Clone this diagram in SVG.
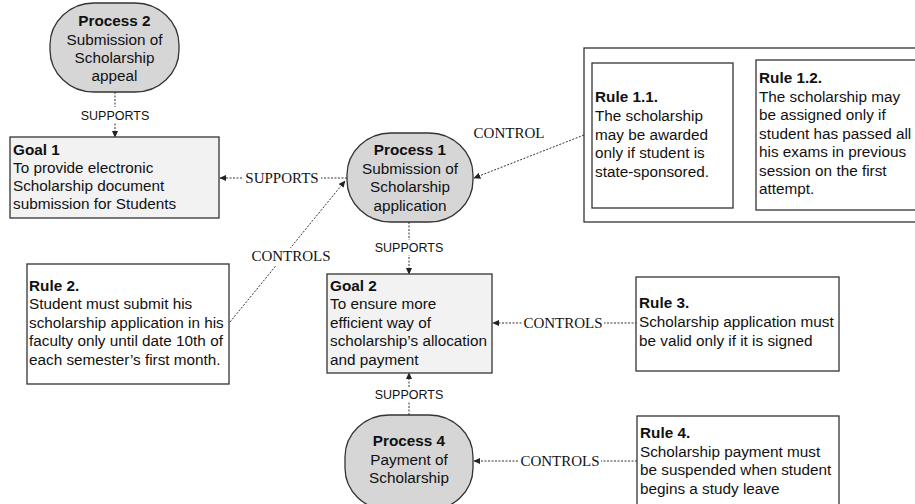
<svg xmlns="http://www.w3.org/2000/svg" width="915" height="504" viewBox="0 0 915 504">
<defs>
<marker id="ah" viewBox="0 0 10 10" refX="9" refY="5" markerWidth="7" markerHeight="7" markerUnits="userSpaceOnUse" orient="auto">
<path d="M0,0.5 L10,5 L0,9.5 z" fill="#222"/>
</marker>
<style>
.proc{fill:#d6d6d6;stroke:#333;stroke-width:1.3}
.goal{fill:#f2f2f2;stroke:#333;stroke-width:1.3}
.rule{fill:#fff;stroke:#333;stroke-width:1.3}
.t{font-family:"Liberation Sans",Arial,sans-serif;font-size:15.3px;fill:#111}
.b{font-weight:bold}
.c{text-anchor:middle}
.lbl{font-family:"Liberation Serif","Times New Roman",serif;font-size:15px;fill:#111;text-anchor:middle}
.slbl{font-family:"Liberation Sans",Arial,sans-serif;font-size:12.5px;fill:#111;text-anchor:middle}
.con{fill:none;stroke:#333;stroke-width:1;stroke-dasharray:2,1.5}
.bg{fill:#fff}
</style>
</defs>

<g id="connectors">
<line class="con" x1="115" y1="92" x2="115" y2="137" marker-end="url(#ah)"/>
<rect class="bg" x="78" y="107" width="74" height="15"/>
<text class="slbl" x="115" y="119.5">SUPPORTS</text>

<line class="con" x1="347" y1="178" x2="220" y2="178" marker-end="url(#ah)"/>
<rect class="bg" x="243" y="170" width="78" height="16"/>
<text class="lbl" x="282" y="183">SUPPORTS</text>

<line class="con" x1="230" y1="322" x2="345" y2="181" marker-end="url(#ah)"/>
<rect class="bg" x="250" y="248" width="82" height="17"/>
<text class="lbl" x="291" y="261">CONTROLS</text>

<line class="con" x1="584" y1="135" x2="474" y2="178" marker-end="url(#ah)"/>
<text class="lbl" x="509" y="138">CONTROL</text>

<line class="con" x1="409" y1="222" x2="409" y2="274" marker-end="url(#ah)"/>
<rect class="bg" x="372" y="240" width="74" height="15"/>
<text class="slbl" x="409" y="252">SUPPORTS</text>

<line class="con" x1="409" y1="415" x2="409" y2="373" marker-end="url(#ah)"/>
<rect class="bg" x="372" y="387" width="74" height="15"/>
<text class="slbl" x="409" y="399">SUPPORTS</text>

<line class="con" x1="637" y1="323" x2="493" y2="323" marker-end="url(#ah)"/>
<rect class="bg" x="522" y="315" width="82" height="16"/>
<text class="lbl" x="563" y="328">CONTROLS</text>

<line class="con" x1="637" y1="461" x2="474" y2="461" marker-end="url(#ah)"/>
<rect class="bg" x="519" y="453" width="82" height="16"/>
<text class="lbl" x="560" y="466">CONTROLS</text>
</g>

<g id="process2">
<rect class="proc" x="50" y="3" width="129" height="89" rx="44" ry="42"/>
<text class="t b c" x="114.5" y="26">Process 2</text>
<text class="t c" x="114.5" y="45">Submission of</text>
<text class="t c" x="114.5" y="63">Scholarship</text>
<text class="t c" x="114.5" y="81">appeal</text>
</g>

<g id="goal1">
<rect class="goal" x="10" y="137" width="209" height="81"/>
<text class="t b" x="13" y="155">Goal 1</text>
<text class="t" x="13" y="173">To provide electronic</text>
<text class="t" x="13" y="191">Scholarship document</text>
<text class="t" x="13" y="209">submission for Students</text>
</g>

<g id="process1">
<rect class="proc" x="347" y="133" width="126" height="89" rx="44" ry="42"/>
<text class="t b c" x="410" y="155">Process 1</text>
<text class="t c" x="410" y="174">Submission of</text>
<text class="t c" x="410" y="192">Scholarship</text>
<text class="t c" x="410" y="211">application</text>
</g>

<g id="rule1">
<rect class="rule" x="584" y="48" width="340" height="174"/>
</g>

<g id="rule1-1">
<rect class="rule" x="592" y="63" width="141" height="145"/>
<text class="t b" x="595" y="102">Rule 1.1.</text>
<text class="t" x="595" y="121">The scholarship</text>
<text class="t" x="595" y="139.5">may be awarded</text>
<text class="t" x="595" y="158">only if student is</text>
<text class="t" x="595" y="176.5">state-sponsored.</text>
</g>

<g id="rule1-2">
<rect class="rule" x="756" y="60" width="170" height="150"/>
<text class="t b" x="759" y="83">Rule 1.2.</text>
<text class="t" x="759" y="101.5">The scholarship may</text>
<text class="t" x="759" y="120">be assigned only if</text>
<text class="t" x="759" y="138.5">student has passed all</text>
<text class="t" x="759" y="157">his exams in previous</text>
<text class="t" x="759" y="175.5">session on the first</text>
<text class="t" x="759" y="194">attempt.</text>
</g>

<g id="rule2">
<rect class="rule" x="27" y="264" width="202" height="120"/>
<text class="t b" x="29" y="291">Rule 2.</text>
<text class="t" x="29" y="309">Student must submit his</text>
<text class="t" x="29" y="327.5">scholarship application in his</text>
<text class="t" x="29" y="346">faculty only until date 10th of</text>
<text class="t" x="29" y="364.5">each semester’s first month.</text>
</g>

<g id="goal2">
<rect class="goal" x="327" y="274" width="165" height="99"/>
<text class="t b" x="330" y="291">Goal 2</text>
<text class="t" x="330" y="309">To ensure more</text>
<text class="t" x="330" y="327.5">efficient way of</text>
<text class="t" x="330" y="346">scholarship’s allocation</text>
<text class="t" x="330" y="364.5">and payment</text>
</g>

<g id="rule3">
<rect class="rule" x="636" y="277" width="203" height="94"/>
<text class="t b" x="639" y="308">Rule 3.</text>
<text class="t" x="639" y="327">Scholarship application must</text>
<text class="t" x="639" y="345.5">be valid only if it is signed</text>
</g>

<g id="process4">
<rect class="proc" x="345" y="415" width="128" height="95" rx="44" ry="42"/>
<text class="t b c" x="409" y="446">Process 4</text>
<text class="t c" x="409" y="465">Payment of</text>
<text class="t c" x="409" y="483">Scholarship</text>
</g>

<g id="rule4">
<rect class="rule" x="637" y="416" width="202" height="94"/>
<text class="t b" x="640" y="438">Rule 4.</text>
<text class="t" x="640" y="456.5">Scholarship payment must</text>
<text class="t" x="640" y="475">be suspended when student</text>
<text class="t" x="640" y="493.5">begins a study leave</text>
</g>
</svg>
